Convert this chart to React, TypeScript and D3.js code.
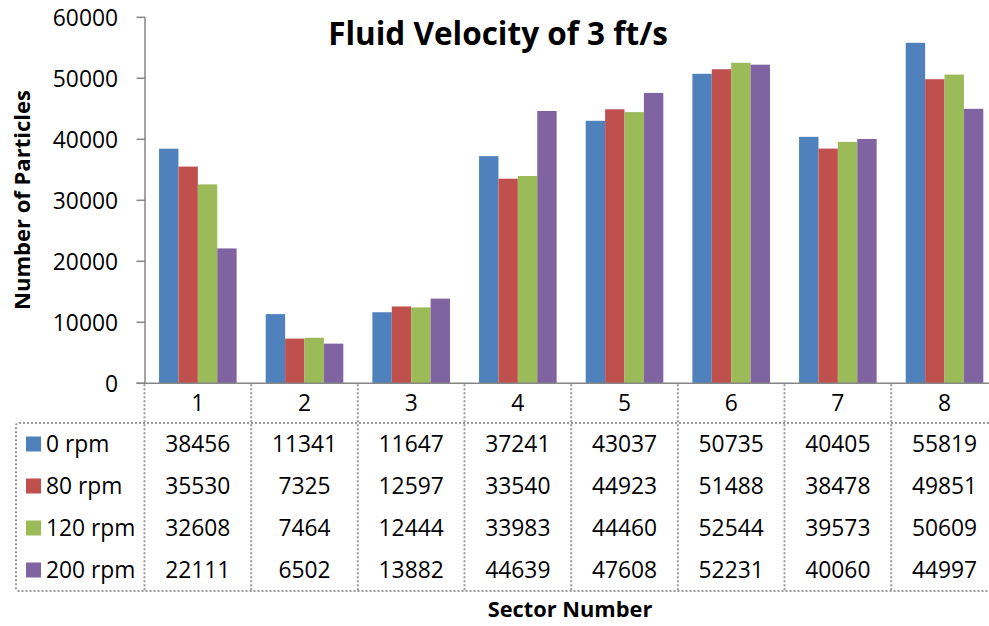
import React from "react";
import * as d3 from "d3";

const categories = ["1", "2", "3", "4", "5", "6", "7", "8"];
const seriesNames = ["0 rpm", "80 rpm", "120 rpm", "200 rpm"];
const rpm0 = [38456, 11341, 11647, 37241, 43037, 50735, 40405, 55819];
const rpm80 = [35530, 7325, 12597, 33540, 44923, 51488, 38478, 49851];
const rpm120 = [32608, 7464, 12444, 33983, 44460, 52544, 39573, 50609];
const rpm200 = [22111, 6502, 13882, 44639, 47608, 52231, 40060, 44997];
const seriesValues = [rpm0, rpm80, rpm120, rpm200];
const colors = ["#4F81BD", "#C0504D", "#9BBB59", "#8064A2"];
const yTicks = [0, 10000, 20000, 30000, 40000, 50000, 60000];

const W = 989;
const H = 626;
const x0 = 144.5;
const band = 106.67;
const x1 = x0 + band * categories.length;
const yTop = 17.3;
const yBottom = 383.3;
const headerBottom = 423;
const tableBottom = 591;
const legendLeft = 16;
const rowH = (tableBottom - headerBottom) / 4;

const FONT = "'Open Sans', 'Liberation Sans', sans-serif";
const gridColor = "#9a9a9a";
const dash = "2,2";
const FS = 22.8;

export default function App() {
  const x = d3.scaleBand<string>().domain(categories).range([x0, x1]).paddingInner(0).paddingOuter(0);
  const y = d3.scaleLinear().domain([0, 60000]).range([yBottom, yTop]);
  const bw = band / (4 + 1.5);
  const inner = d3.scaleBand<string>().domain(seriesNames).range([0.75 * bw, band - 0.75 * bw]);

  return (
    <svg width={W} height={H} style={{ position: "fixed", left: 0, top: 0, background: "#fff" }} fontFamily={FONT}>
      <rect x={0} y={0} width={W} height={H} fill="#fff" />
      {/* title */}
      <text x={498} y={45} textAnchor="middle" fontSize={31.5} fontWeight="bold" fill="#000">
        Fluid Velocity of 3 ft/s
      </text>
      {/* bars */}
      {categories.map((c, ci) =>
        seriesNames.map((s, si) => {
          const v = seriesValues[si][ci];
          return (
            <rect
              key={c + s}
              x={(x(c) as number) + (inner(s) as number)}
              y={y(v)}
              width={inner.bandwidth()}
              height={yBottom - y(v)}
              fill={colors[si]}
            />
          );
        })
      )}
      {/* y axis */}
      <line x1={x0 + 0.5} x2={x0 + 0.5} y1={yTop} y2={yBottom} stroke="#868686" strokeWidth={1.5} />
      {yTicks.map((t) => (
        <g key={t}>
          <line x1={x0 - 8} x2={x0 + 0.5} y1={y(t)} y2={y(t)} stroke="#868686" strokeWidth={1.5} />
          <text x={118} y={y(t)} dy="0.36em" textAnchor="end" fontSize={FS} fill="#000">
            {t}
          </text>
        </g>
      ))}
      <line x1={x0 - 8} x2={W} y1={yBottom} y2={yBottom} stroke="#868686" strokeWidth={1.5} />
      {/* y axis title */}
      <text
        transform={`translate(30,200) rotate(-90)`}
        textAnchor="middle"
        fontSize={22}
        fontWeight="bold"
        fill="#000"
      >
        Number of Particles
      </text>
      {/* table vertical lines */}
      {d3.range(categories.length + 1).map((i) => (
        <line
          key={"v" + i}
          x1={x0 + i * band}
          x2={x0 + i * band}
          y1={yBottom + 1}
          y2={tableBottom}
          stroke={gridColor}
          strokeWidth={2}
          strokeDasharray={dash}
        />
      ))}
      {/* table horizontal borders */}
      <path
        d={`M${W},${headerBottom} L${legendLeft + 3},${headerBottom} Q${legendLeft},${headerBottom} ${legendLeft},${headerBottom + 3} L${legendLeft},${tableBottom - 3} Q${legendLeft},${tableBottom} ${legendLeft + 3},${tableBottom} L${W},${tableBottom}`}
        fill="none"
        stroke={gridColor}
        strokeWidth={2}
        strokeDasharray={dash}
      />
      {/* category labels */}
      {categories.map((c) => (
        <text key={"c" + c} x={(x(c) as number) + band / 2} y={403} dy="0.36em" textAnchor="middle" fontSize={FS} fill="#000">
          {c}
        </text>
      ))}
      {/* rows */}
      {seriesNames.map((s, si) => {
        const cy = headerBottom + rowH * (si + 0.5);
        return (
          <g key={"r" + s}>
            <rect x={26} y={cy - 7.5} width={15} height={15} fill={colors[si]} />
            <text x={46} y={cy} dy="0.36em" fontSize={FS} fill="#000">
              {s}
            </text>
            {categories.map((c, ci) => (
              <text
                key={c}
                x={(x(c) as number) + band / 2}
                y={cy}
                dy="0.36em"
                textAnchor="middle"
                fontSize={FS}
                fill="#000"
              >
                {seriesValues[si][ci]}
              </text>
            ))}
          </g>
        );
      })}
      {/* x axis title */}
      <text x={570} y={617} textAnchor="middle" fontSize={21.8} fontWeight="bold" fill="#000">
        Sector Number
      </text>
    </svg>
  );
}
